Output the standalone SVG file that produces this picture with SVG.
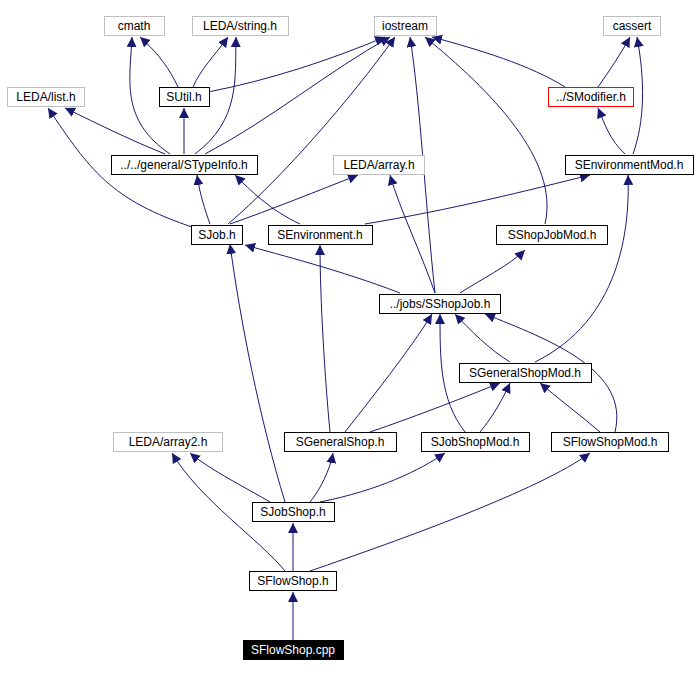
<svg xmlns="http://www.w3.org/2000/svg" width="700" height="678" viewBox="0 0 700 678">
<style>
.n rect{fill:#fff;stroke:#000;stroke-width:1}
.g rect{stroke:#bfbfbf}
.r rect{stroke:#f00}
text{font-family:"Liberation Sans",Arial,sans-serif;font-size:12px;text-anchor:middle;fill:#000}
#edges path{fill:none;stroke:#191970;stroke-width:1;marker-end:url(#a)}
</style>
<defs><marker id="a" viewBox="0 0 10 10" refX="10" refY="5" markerWidth="10" markerHeight="10" markerUnits="userSpaceOnUse" orient="auto"><path d="M0,0L10,5L0,10z" fill="#191970"/></marker></defs>
<rect width="700" height="678" fill="#fff"/>
<g id="edges">
<path d="M293,640V592"/>
<path d="M293,571V523"/>
<path d="M285,571C260,540 200,500 172,453"/>
<path d="M310,571C400,540 540,490 590,453"/>
<path d="M270,502C250,490 210,470 190,453"/>
<path d="M310,502C320,490 330,470 333,453"/>
<path d="M320,502C380,490 420,470 445,453"/>
<path d="M285,502C260,420 240,320 230,244"/>
<path d="M345,432C370,400 410,350 432,314"/>
<path d="M370,432C420,415 470,395 500,383"/>
<path d="M330,432C325,380 320,300 320,245"/>
<path d="M480,432C490,420 500,405 510,383"/>
<path d="M465,432C440,400 440,360 440,314"/>
<path d="M600,432C580,415 560,400 540,383"/>
<path d="M615,432C630,370 550,340 485,314"/>
<path d="M510,362C490,350 470,330 455,314"/>
<path d="M535,362C620,320 630,230 628,175"/>
<path d="M400,293C340,270 280,255 245,245"/>
<path d="M435,293C420,250 400,210 390,175"/>
<path d="M435,293C425,200 420,100 410,37"/>
<path d="M460,293C480,280 510,265 525,250"/>
<path d="M545,224C560,160 490,90 425,37"/>
<path d="M300,224C270,210 250,190 235,175"/>
<path d="M365,224C450,210 530,190 590,175"/>
<path d="M210,224C205,210 200,195 197,175"/>
<path d="M195,228C110,200 90,170 48,108"/>
<path d="M230,224C270,210 320,190 358,175"/>
<path d="M228,224C280,180 350,100 395,37"/>
<path d="M165,154C130,140 100,125 65,108"/>
<path d="M184,154V108"/>
<path d="M170,154C120,120 130,80 132,37"/>
<path d="M195,154C240,120 235,80 236,37"/>
<path d="M205,154C270,120 330,70 390,37"/>
<path d="M178,87C170,70 160,55 140,37"/>
<path d="M193,87C200,70 215,55 228,37"/>
<path d="M208,92C270,80 330,60 385,37"/>
<path d="M565,87C530,65 480,50 432,37"/>
<path d="M598,87C610,70 620,55 630,37"/>
<path d="M625,154C610,140 605,125 598,108"/>
<path d="M633,154C645,120 645,80 637,37"/>
</g>
<g id="cmath" class="n g"><rect x="104.5" y="16.5" width="60" height="19"/><text x="134" y="30">cmath</text></g>
<g id="leda_string" class="n g"><rect x="192.5" y="16.5" width="96" height="19"/><text x="240" y="30">LEDA/string.h</text></g>
<g id="iostream" class="n g"><rect x="374.5" y="16.5" width="62" height="19"/><text x="405" y="30">iostream</text></g>
<g id="cassert" class="n g"><rect x="603.5" y="16.5" width="57" height="19"/><text x="632" y="30">cassert</text></g>
<g id="leda_list" class="n g"><rect x="7.5" y="87.5" width="77" height="19"/><text x="46" y="101">LEDA/list.h</text></g>
<g id="sutil" class="n"><rect x="159.5" y="87.5" width="50" height="19"/><text x="184" y="101">SUtil.h</text></g>
<g id="smodifier" class="n r"><rect x="548.5" y="87.5" width="85" height="19"/><text x="591" y="101">../SModifier.h</text></g>
<g id="stypeinfo" class="n"><rect x="111.5" y="155.5" width="146" height="19"/><text x="184" y="169">../../general/STypeInfo.h</text></g>
<g id="leda_array" class="n g"><rect x="333.5" y="155.5" width="91" height="19"/><text x="379" y="169">LEDA/array.h</text></g>
<g id="senvmod" class="n"><rect x="565.5" y="155.5" width="128" height="19"/><text x="629" y="169">SEnvironmentMod.h</text></g>
<g id="sjob" class="n"><rect x="191.5" y="225.5" width="51" height="19"/><text x="217" y="239">SJob.h</text></g>
<g id="senv" class="n"><rect x="268.5" y="225.5" width="104" height="19"/><text x="320" y="239">SEnvironment.h</text></g>
<g id="sshopjobmod" class="n"><rect x="496.5" y="225.5" width="111" height="19"/><text x="552" y="239">SShopJobMod.h</text></g>
<g id="sshopjob" class="n"><rect x="379.5" y="294.5" width="121" height="19"/><text x="440" y="308">../jobs/SShopJob.h</text></g>
<g id="sgenshopmod" class="n"><rect x="459.5" y="363.5" width="132" height="19"/><text x="525" y="377">SGeneralShopMod.h</text></g>
<g id="leda_array2" class="n g"><rect x="113.5" y="432.5" width="109" height="19"/><text x="168" y="446">LEDA/array2.h</text></g>
<g id="sgenshop" class="n"><rect x="284.5" y="432.5" width="112" height="19"/><text x="340" y="446">SGeneralShop.h</text></g>
<g id="sjobshopmod" class="n"><rect x="421.5" y="432.5" width="108" height="19"/><text x="475" y="446">SJobShopMod.h</text></g>
<g id="sflowshopmod" class="n"><rect x="551.5" y="432.5" width="117" height="19"/><text x="610" y="446">SFlowShopMod.h</text></g>
<g id="sjobshop" class="n"><rect x="252.5" y="502.5" width="82" height="19"/><text x="293" y="516">SJobShop.h</text></g>
<g id="sflowshop" class="n"><rect x="249.5" y="571.5" width="87" height="19"/><text x="293" y="585">SFlowShop.h</text></g>
<g id="sflowshopcpp"><rect x="243.5" y="640.5" width="100" height="19" fill="#000" stroke="#000"/><text x="293" y="654" fill="#fff" style="fill:#fff">SFlowShop.cpp</text></g>
</svg>
